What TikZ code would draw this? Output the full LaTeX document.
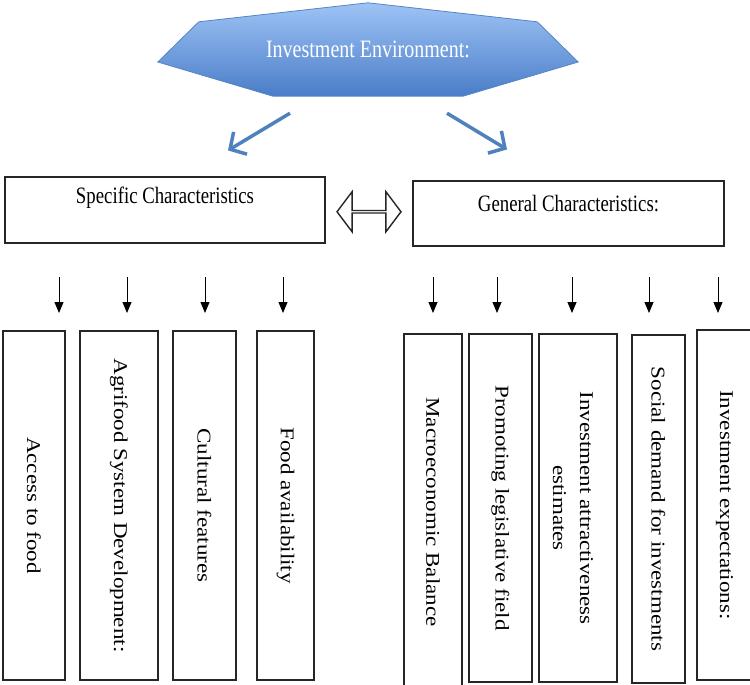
\documentclass[tikz,border=0pt]{standalone}
\usepackage{fontspec}
\setmainfont{Liberation Serif}
\newfontfamily\narrowfont[FakeStretch=0.8]{Liberation Serif}
\newfontfamily\widefont[FakeStretch=1.18]{Liberation Serif}
\usetikzlibrary{positioning,calc,arrows.meta,shapes.arrows,backgrounds}
\definecolor{hextop}{HTML}{9EC3F5}
\definecolor{hexbot}{HTML}{4A7DC8}
\definecolor{hexline}{HTML}{5585C5}
\definecolor{arrowblue}{HTML}{4F81BD}

\begin{document}
\begin{tikzpicture}[
    x=1pt, y=-1pt,
    envtext/.style={
        minimum width=420pt,
        minimum height=93pt,
        text=white,
        font=\narrowfont\fontsize{25}{28}\selectfont
    },
    hexa/.style={
        draw=hexline,
        line width=0.8pt,
        top color=hextop,
        bottom color=hexbot
    },
    charbox/.style={
        draw=black!85,
        line width=1.1pt,
        minimum height=66pt
    },
    chartext/.style={
        font=\narrowfont\fontsize{23.5}{26}\selectfont
    },
    colbox/.style={
        draw=black!85,
        line width=1.1pt,
        inner sep=0pt,
        font=\widefont\fontsize{19.5}{27}\selectfont
    },
    linkarrow/.style={
        draw=black!85,
        line width=1.4pt,
        fill=white,
        double arrow,
        double arrow head extend=10.5pt,
        double arrow tip angle=106,
        minimum height=64pt,
        minimum width=40pt,
        inner sep=0pt
    },
    bluearrow/.style={
        draw=arrowblue,
        line width=3.5pt,
        -{Straight Barb[length=12pt,width=26pt]}
    },
    downarrow/.style={
        line width=1pt,
        -{Triangle[length=11pt,width=9pt]}
    }
    ]
\useasboundingbox (0,0) rectangle (750,685);

\node[envtext] (env) at (368,49.5) {Investment Environment:};
\begin{scope}[on background layer]
\draw[hexa] (env.north) -- ($(env.north east)+(-41,19)$) -- ($(env.east)+(0,12.5)$)
    -- ($(env.south)+(95,0)$) -- ($(env.south)+(-95,0)$) -- ($(env.west)+(0,12.5)$)
    -- ($(env.north west)+(41,19)$) -- cycle;
\end{scope}

\node[charbox, minimum width=320pt] (spec) at (165,210) {};
\node[charbox, minimum width=311pt, minimum height=65pt] (gen) at (568.5,213.5) {};
\node[chartext] (spect) at ([yshift=12pt]spec.center) {Specific Characteristics};
\node[chartext] (gent) at ([yshift=10pt]gen.center) {General Characteristics:};
\node[linkarrow] (link) at ($(spec.east)!0.5!(gen.west)$) {};

\draw[bluearrow] ($(env.south)+(-78,17)$) -- ($(spec.north)+(63,-26)$);
\draw[bluearrow] ($(env.south)+(79,17)$) -- ($(gen.north)+(-61.5,-31)$);

\node[colbox, minimum width=62pt, minimum height=349pt] (a1) at (34,505.5) {\rotatebox{-90}{Access to food}};
\node[colbox, minimum width=78pt, minimum height=349pt] (a2) at (119,505.5) {\rotatebox{-90}{Agrifood System Development:}};
\node[colbox, minimum width=63pt, minimum height=349pt] (a3) at (204.5,505.5) {\rotatebox{-90}{Cultural features}};
\node[colbox, minimum width=57pt, minimum height=349pt] (a4) at (285.5,505.5) {\rotatebox{-90}{Food availability}};

\node[colbox, minimum width=58pt, minimum height=356pt] (b1) at (433,512) {\rotatebox{-90}{Macroeconomic Balance}};
\node[colbox, minimum width=63pt, minimum height=348pt] (b2) at (500.5,508) {\rotatebox{-90}{Promoting legislative field}};
\node[colbox, minimum width=78pt, minimum height=348pt] (b3) at (578,508) {\rotatebox{-90}{\parbox{270pt}{\vspace*{10pt}\centering Investment attractiveness\\estimates}}};
\node[colbox, minimum width=53pt, minimum height=348pt] (b4) at (658.5,509) {\rotatebox{-90}{Social demand for investments}};
\node[colbox, minimum width=55pt, minimum height=350pt] (b5) at (724.5,505) {\rotatebox{-90}{Investment expectations:}};

\coordinate (toprow) at (0,277);
\coordinate (botrow) at (0,313);
\foreach \b/\dx in {a1/25,a2/8,a3/0.5,a4/-2.5,b1/0,b2/-3.5,b3/-6,b4/-9.5,b5/-6.5}
{
    \path (\b.north) ++(\dx,0) coordinate (tip);
    \draw[downarrow] (tip |- toprow) -- (tip |- botrow);
}
\end{tikzpicture}
\end{document}
